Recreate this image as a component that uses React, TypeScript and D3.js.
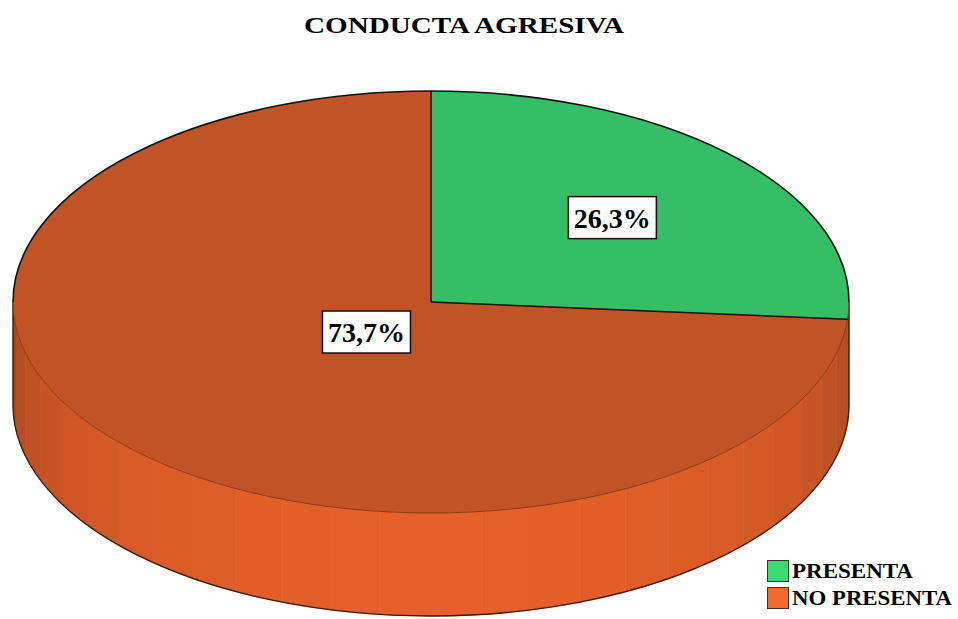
import React from "react";
import * as d3 from "d3";

const title = "CONDUCTA AGRESIVA";
const categories = ["PRESENTA", "NO PRESENTA"];
const values = [26.3, 73.7];
const valueLabels = ["26,3%", "73,7%"];
const topColors = ["#35BE65", "#C25324"];
const sideLight = ["#33B862", "#E5602A"];
const sideDark = ["#237F44", "#9E431C"];
const legendColors = ["#3BDB73", "#F26A30"];
const labelRadius = [0.59, 0.21];

const W = 958;
const H = 619;
const cx = 431;
const cy = 302;
const rx = 418;
const ry = 211;
const depth = 103;

function pt(a: number, dy = 0): [number, number] {
  return [cx + rx * Math.sin(a), cy - ry * Math.cos(a) + dy];
}

export default function App() {
  const pie = d3.pie<number>().sort(null).startAngle(0).endAngle(2 * Math.PI);
  const arcs = pie(values);

  const slicePath = (a0: number, a1: number) => {
    const [x0, y0] = pt(a0);
    const [x1, y1] = pt(a1);
    const large = a1 - a0 > Math.PI ? 1 : 0;
    return `M${cx},${cy}L${x0},${y0}A${rx},${ry} 0 ${large} 1 ${x1},${y1}Z`;
  };

  // side strips
  const strips: { d: string; fill: string }[] = [];
  const nStrips = 26;
  const step = Math.PI / nStrips;
  arcs.forEach((arc, i) => {
    const s = Math.max(arc.startAngle, Math.PI / 2);
    const e = Math.min(arc.endAngle, (3 * Math.PI) / 2);
    if (e <= s) return;
    let a = s;
    while (a < e - 1e-6) {
      const b = Math.min(e, Math.floor((a + 1e-6) / step) * step + step);
      const [x0, y0] = pt(a);
      const [x1, y1] = pt(b);
      const mid = (a + b) / 2;
      const bright = Math.pow(Math.max(0, Math.cos(mid - Math.PI)), 0.6);
      const fill = d3.interpolateRgb(sideDark[i], sideLight[i])(bright);
      const d = `M${x0},${y0}A${rx},${ry} 0 0 1 ${x1},${y1}L${x1},${y1 + depth}A${rx},${ry} 0 0 0 ${x0},${y0 + depth}Z`;
      strips.push({ d, fill });
      a = b;
    }
  });

  const [lx, ly] = pt(Math.PI * 1.5);
  const [rxp, ryp] = pt(Math.PI / 2);
  const backArc = `M${lx},${ly}A${rx},${ry} 0 0 1 ${rxp},${ryp}`;
  const frontArc = `M${rxp},${ryp}A${rx},${ry} 0 0 1 ${lx},${ly}`;
  const sideOutline = `M${rxp},${ryp}L${rxp},${ryp + depth}A${rx},${ry} 0 0 1 ${lx},${ly + depth}L${lx},${ly}`;

  return (
    <svg
      width={W}
      height={H}
      style={{ position: "absolute", left: 0, top: 0, background: "#fff" }}
      fontFamily="'Liberation Serif', 'Times New Roman', serif"
    >
      <text
        x={464}
        y={33}
        textAnchor="middle"
        fontSize={24}
        fontWeight="bold"
        textLength={320}
        lengthAdjust="spacingAndGlyphs"
      >
        {title}
      </text>

      {strips.map((s, i) => (
        <path key={"s" + i} d={s.d} fill={s.fill} stroke={s.fill} strokeWidth={0.6} />
      ))}
      <path d={sideOutline} fill="none" stroke="#3a1a0a" strokeWidth={1.3} />

      {arcs.map((a, i) => (
        <path key={"t" + i} d={slicePath(a.startAngle, a.endAngle)} fill={topColors[i]} />
      ))}
      <path d={frontArc} fill="none" stroke="#8E3A16" strokeWidth={1} />
      <path d={backArc} fill="none" stroke="#111" strokeWidth={1.6} />
      {arcs.map((a, i) => {
        const [x, y] = pt(a.startAngle);
        return <line key={"r" + i} x1={cx} y1={cy} x2={x} y2={y} stroke="#111" strokeWidth={1.5} />;
      })}

      {arcs.map((a, i) => {
        const mid = (a.startAngle + a.endAngle) / 2;
        const x = cx + labelRadius[i] * rx * Math.sin(mid);
        const y = cy - labelRadius[i] * ry * Math.cos(mid);
        return (
          <g key={"l" + i} transform={`translate(${x},${y})`}>
            <rect x={-44} y={-21} width={88} height={42} fill="#fff" stroke="#111" strokeWidth={1.5} />
            <text x={0} y={10} textAnchor="middle" fontSize={28} fontWeight="bold" fill="#000">
              {valueLabels[i]}
            </text>
          </g>
        );
      })}

      {categories.map((c, i) => (
        <g key={"lg" + i} transform={`translate(767,${560 + i * 27})`}>
          <rect x={0.5} y={0.5} width={21} height={21} fill={legendColors[i]} stroke="#333" strokeWidth={1} />
          <text
            x={25}
            y={18}
            fontSize={20}
            fontWeight="bold"
            textLength={c.length === 8 ? 121 : 160}
            lengthAdjust="spacingAndGlyphs"
          >
            {c}
          </text>
        </g>
      ))}
    </svg>
  );
}
